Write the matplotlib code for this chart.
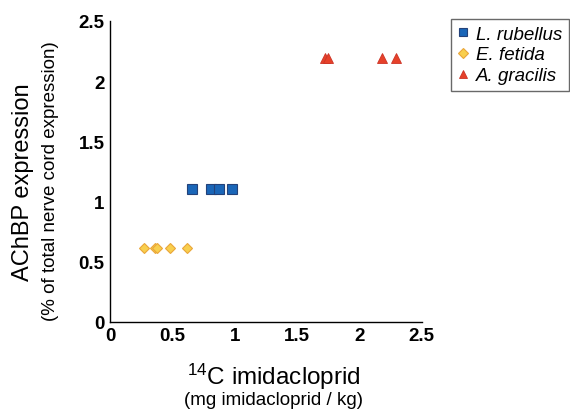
import matplotlib
matplotlib.use("Agg")
import matplotlib.pyplot as plt

plt.rcParams["font.family"] = ["Liberation Sans", "DejaVu Sans"]
plt.rcParams["mathtext.fontset"] = "custom"
plt.rcParams["mathtext.rm"] = "Liberation Sans"

# data
rubellus_x = [0.66, 0.81, 0.87, 0.98]
rubellus_y = [1.1, 1.1, 1.1, 1.1]
fetida_x = [0.27, 0.36, 0.38, 0.48, 0.62]
fetida_y = [0.61, 0.61, 0.61, 0.61, 0.61]
gracilis_x = [1.72, 1.75, 2.18, 2.29]
gracilis_y = [2.19, 2.19, 2.19, 2.19]

ticks = [0, 0.5, 1, 1.5, 2, 2.5]
tick_labels = ["0", "0.5", "1", "1.5", "2", "2.5"]

fig = plt.figure(figsize=(5.7, 4.14), dpi=100)
ax = fig.add_axes([0.193, 0.22, 0.547, 0.727])

ax.plot(rubellus_x, rubellus_y, ls="none", marker="s", ms=6.5,
        mfc="#1a66b8", mec="#24427a", mew=0.8, label="L. rubellus")
ax.plot(fetida_x, fetida_y, ls="none", marker="D", ms=5.5,
        mfc="#f8cf4e", mec="#eaa63a", mew=0.8, label="E. fetida")
ax.plot(gracilis_x, gracilis_y, ls="none", marker="^", ms=7.5,
        mfc="#e6412a", mec="#cc3326", mew=0.6, label="A. gracilis")

ax.set_xlim(0, 2.5)
ax.set_ylim(0, 2.5)
ax.set_xticks(ticks)
ax.set_xticklabels(tick_labels)
ax.set_yticks(ticks)
ax.set_yticklabels(tick_labels)
ax.tick_params(axis="both", length=0, labelsize=13.5, pad=4)
for lab in ax.get_xticklabels() + ax.get_yticklabels():
    lab.set_fontweight("bold")

for loc in ["top", "right"]:
    ax.spines[loc].set_visible(False)
for loc in ["bottom", "left"]:
    ax.spines[loc].set_linewidth(1.0)

# axis titles, two sizes each
fig.text(0.040, 0.56, "AChBP expression", rotation=90, fontsize=17,
         ha="center", va="center")
fig.text(0.089, 0.563, "(% of total nerve cord expression)", rotation=90,
         fontsize=13.5, ha="center", va="center")
fig.text(0.48, 0.070, r"$\mathregular{^{14}}$C imidacloprid", fontsize=17.5,
         ha="center", va="baseline")
fig.text(0.48, 0.022, "(mg imidacloprid / kg)", fontsize=13.5,
         ha="center", va="baseline")

leg = fig.legend(loc="upper right", bbox_to_anchor=(0.998, 0.952),
                 prop={"style": "italic", "size": 13.5}, fancybox=False,
                 frameon=True, handlelength=0.6, handletextpad=0.4,
                 borderpad=0.35, labelspacing=0.2, borderaxespad=0,
                 markerscale=0.85)
leg.get_frame().set_edgecolor("#444444")
leg.get_frame().set_linewidth(1.0)

fig.savefig("out.png", dpi=100)
